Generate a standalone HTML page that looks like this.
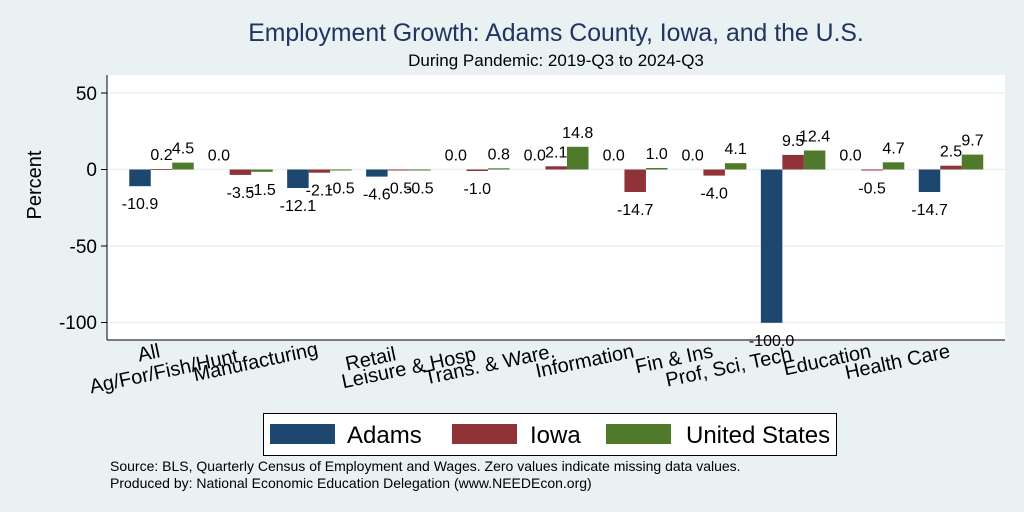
<!DOCTYPE html>
<html><head><meta charset="utf-8"><style>
html,body{margin:0;padding:0;background:#eaf1f3;}
svg{display:block;font-family:"Liberation Sans",Arial,sans-serif;}
</style></head><body>
<svg width="1024" height="512" viewBox="0 0 1024 512" xmlns="http://www.w3.org/2000/svg">
<rect width="1024" height="512" fill="#eaf1f3"/>
<text x="556" y="41" font-size="24.8" fill="#1f3461" text-anchor="middle">Employment Growth: Adams County, Iowa, and the U.S.</text>
<text x="556" y="66" font-size="17" fill="#000" text-anchor="middle">During Pandemic: 2019-Q3 to 2024-Q3</text>
<rect x="107" y="75" width="898" height="265" fill="#fff"/>
<g stroke="#eaf1f3" stroke-width="1.5">
<line x1="107" y1="93" x2="1005" y2="93"/><line x1="107" y1="169.5" x2="1005" y2="169.5"/>
<line x1="107" y1="246" x2="1005" y2="246"/><line x1="107" y1="322.5" x2="1005" y2="322.5"/>
</g>
<g stroke="#000" stroke-width="1">
<line x1="107" y1="75" x2="107" y2="340"/><line x1="107" y1="340" x2="1005" y2="340"/>
<line x1="101" y1="93" x2="107" y2="93"/><line x1="101" y1="169.5" x2="107" y2="169.5"/>
<line x1="101" y1="246" x2="107" y2="246"/><line x1="101" y1="322.5" x2="107" y2="322.5"/>
</g>
<g font-size="19" text-anchor="end" fill="#000">
<text x="97" y="100">50</text><text x="97" y="176">0</text><text x="97" y="253">-50</text><text x="97" y="329">-100</text>
</g>
<text transform="translate(41,185) rotate(-90)" font-size="20" text-anchor="middle">Percent</text>
<g fill="#1d476e">
<rect x="129.25" y="169.5" width="21.5" height="16.7"/>
<rect x="287.15" y="169.5" width="21.5" height="18.5"/>
<rect x="366.1" y="169.5" width="21.5" height="7.1"/>
<rect x="760.85" y="169.5" width="21.5" height="153.3"/>
<rect x="918.75" y="169.5" width="21.5" height="22.5"/>
</g>
<g fill="#8f3339">
<rect x="150.75" y="169.2" width="21.5" height="0.8"/>
<rect x="229.7" y="169.5" width="21.5" height="5.4"/>
<rect x="308.65" y="169.5" width="21.5" height="3.2"/>
<rect x="387.6" y="169.5" width="21.5" height="1"/>
<rect x="466.55" y="169.5" width="21.5" height="1.5"/>
<rect x="545.5" y="166.3" width="21.5" height="3.2"/>
<rect x="624.45" y="169.5" width="21.5" height="22.5"/>
<rect x="703.4" y="169.5" width="21.5" height="6.1"/>
<rect x="782.35" y="154.9" width="21.5" height="14.6"/>
<rect x="861.3" y="169.5" width="21.5" height="1"/>
<rect x="940.25" y="165.7" width="21.5" height="3.8"/>
</g>
<g fill="#4f7a2b">
<rect x="172.25" y="162.6" width="21.5" height="6.9"/>
<rect x="251.2" y="169.5" width="21.5" height="2.3"/>
<rect x="330.15" y="169.5" width="21.5" height="1"/>
<rect x="409.1" y="169.5" width="21.5" height="1"/>
<rect x="488.05" y="168.3" width="21.5" height="1.2"/>
<rect x="567" y="146.8" width="21.5" height="22.7"/>
<rect x="645.95" y="168" width="21.5" height="1.5"/>
<rect x="724.9" y="163.2" width="21.5" height="6.3"/>
<rect x="803.85" y="150.5" width="21.5" height="19"/>
<rect x="882.8" y="162.3" width="21.5" height="7.2"/>
<rect x="961.75" y="154.6" width="21.5" height="14.9"/>
</g>
<g font-size="16" text-anchor="middle" fill="#000">
<text x="140" y="209.2">-10.9</text><text x="161.5" y="160.2">0.2</text><text x="183" y="153.6">4.5</text>
<text x="218.9" y="160.5">0.0</text><text x="240.45" y="197.9">-3.5</text><text x="262" y="194.8">-1.5</text>
<text x="297.9" y="211">-12.1</text><text x="319.4" y="195.7">-2.1</text><text x="340.9" y="193.3">-0.5</text>
<text x="376.85" y="199.6">-4.6</text><text x="398.35" y="193.3">-0.5</text><text x="419.85" y="193.3">-0.5</text>
<text x="455.8" y="160.5">0.0</text><text x="477.3" y="194">-1.0</text><text x="498.8" y="159.3">0.8</text>
<text x="534.75" y="160.5">0.0</text><text x="556.25" y="157.3">2.1</text><text x="577.75" y="137.8">14.8</text>
<text x="613.7" y="160.5">0.0</text><text x="635.2" y="215">-14.7</text><text x="656.7" y="159">1.0</text>
<text x="692.65" y="160.5">0.0</text><text x="714.15" y="198.6">-4.0</text><text x="735.65" y="154.2">4.1</text>
<text x="771.6" y="345.8">-100.0</text><text x="793.1" y="145.9">9.5</text><text x="814.6" y="141.5">12.4</text>
<text x="850.55" y="160.5">0.0</text><text x="872.05" y="193.3">-0.5</text><text x="893.55" y="153.3">4.7</text>
<text x="929.5" y="215">-14.7</text><text x="951" y="156.7">2.5</text><text x="972.5" y="145.6">9.7</text>
</g>
<g font-size="20" text-anchor="end" fill="#000">
<text transform="translate(161,357) rotate(-12)">All</text>
<text transform="translate(239,362) rotate(-12)">Ag/For/Fish/Hunt</text>
<text transform="translate(319,355) rotate(-12)">Manufacturing</text>
<text transform="translate(397,360) rotate(-12)">Retail</text>
<text transform="translate(477,360) rotate(-12)">Leisure &amp; Hosp</text>
<text transform="translate(556,357) rotate(-12)">Trans. &amp; Ware.</text>
<text transform="translate(635,357) rotate(-12)">Information</text>
<text transform="translate(714,357) rotate(-12)">Fin &amp; Ins</text>
<text transform="translate(793,360) rotate(-12)">Prof, Sci, Tech</text>
<text transform="translate(872,357) rotate(-12)">Education</text>
<text transform="translate(951,357) rotate(-12)">Health Care</text>
</g>
<rect x="263.5" y="413.5" width="573" height="42" fill="#fff" stroke="#000" stroke-width="1"/>
<rect x="270" y="424" width="65" height="20" fill="#1d476e"/>
<text x="347" y="443" font-size="24">Adams</text>
<rect x="452" y="424" width="65" height="20" fill="#8f3339"/>
<text x="530" y="443" font-size="24">Iowa</text>
<rect x="606" y="424" width="65" height="20" fill="#4f7a2b"/>
<text x="686" y="443" font-size="24">United States</text>
<text x="110" y="471" font-size="14">Source: BLS, Quarterly Census of Employment and Wages. Zero values indicate missing data values.</text>
<text x="110" y="488" font-size="14">Produced by: National Economic Education Delegation (www.NEEDEcon.org)</text>
</svg>
</body></html>
